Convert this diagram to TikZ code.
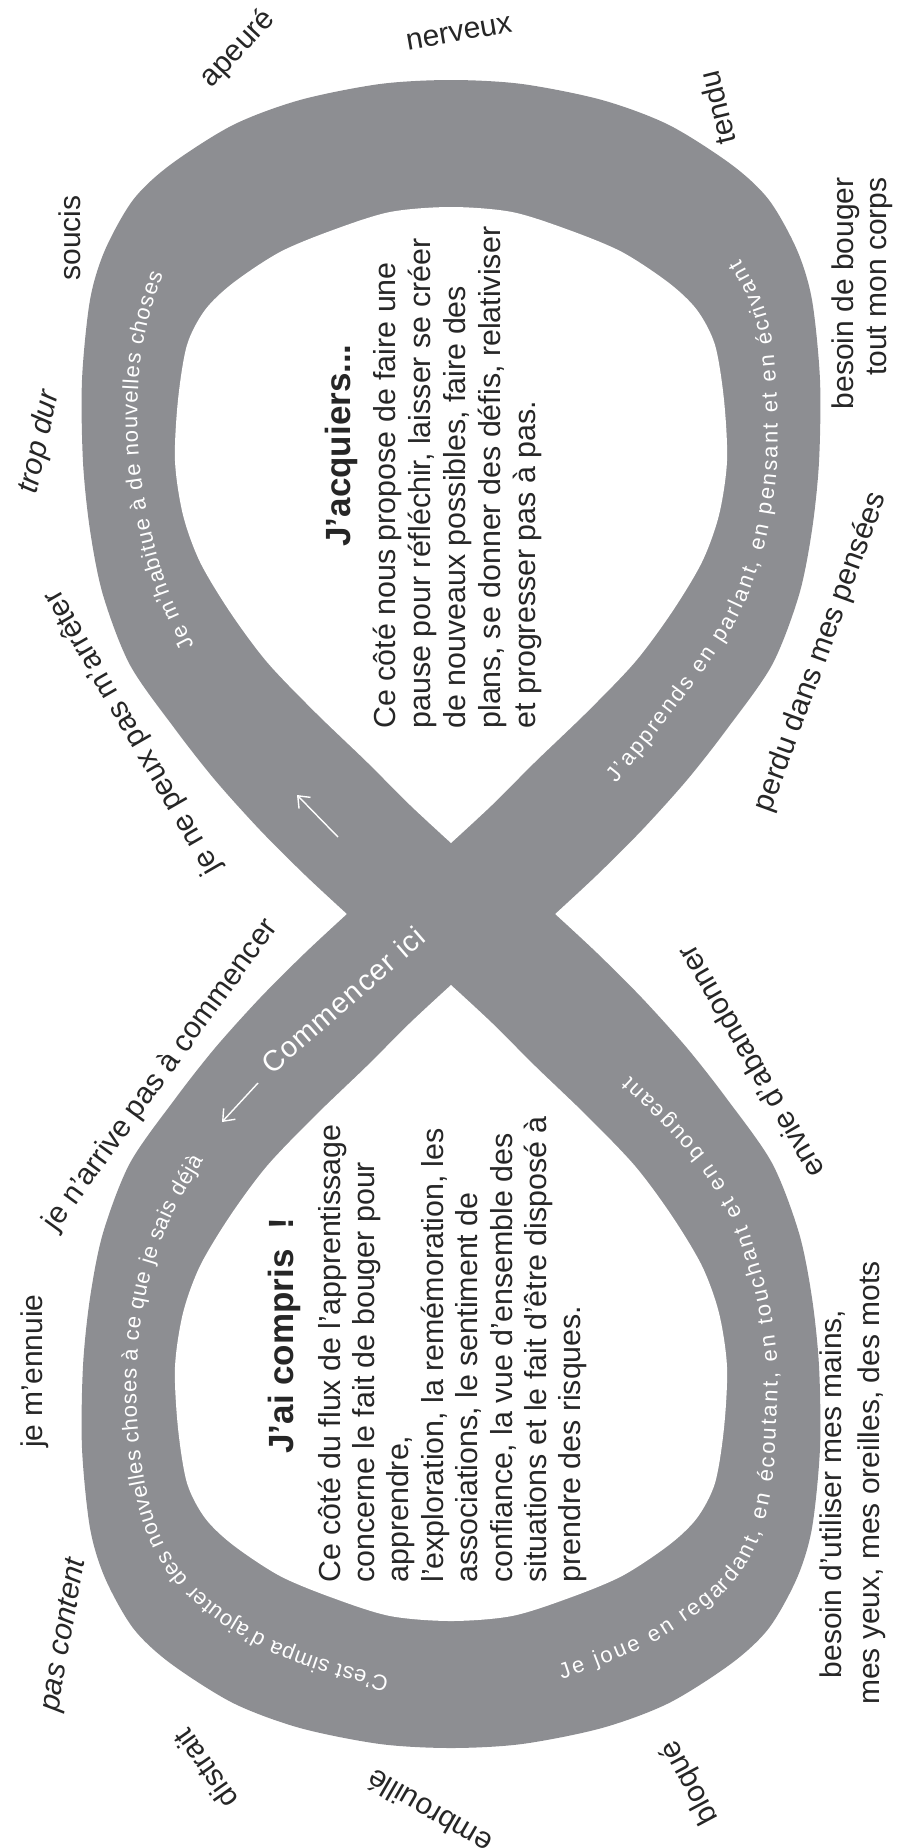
\documentclass[tikz,border=0pt]{standalone}
\usepackage{fontspec}
\setmainfont{Liberation Sans}
\usetikzlibrary{decorations.text, arrows.meta}
\definecolor{bandgrey}{RGB}{141,142,146}
\definecolor{ink}{RGB}{38,38,38}
\newcommand\fBody{\fontsize{15.2}{17}\selectfont}
\newcommand\fTitle{\fontsize{17.5}{20}\selectfont\bfseries}
\newcommand\fWord{\fontsize{15}{17}\selectfont}
\newcommand\fBand{\fontsize{11}{13}\selectfont}
\newcommand\fStart{\fontsize{14.5}{17}\selectfont\addfontfeatures{LetterSpace=4}}
\tikzset{
  word/.style={font=\fWord, text=ink, inner sep=0pt},
  bodyline/.style={font=\fBody, text=ink, inner sep=0pt, anchor=base west, rotate=90},
  titleline/.style={font=\fTitle, text=ink, inner sep=0pt, anchor=base west, rotate=90},
  bandtext/.style={rounded corners=11pt, decorate, decoration={text along path, text={|\fBand|#1}, text color=white, text align={fit to path}, raise=-2.8pt}},
  arr/.style={draw=white, line width=0.7pt, -{Straight Barb[length=5pt, width=8pt]}}
}
\begin{document}
\begin{tikzpicture}[x=0.5pt, y=-0.5pt]
\useasboundingbox (0,0) rectangle (922,1848);

% band (figure eight)
\fill[bandgrey] plot[smooth] coordinates {(347,914) (305,875) (260,830) (215,780) (175,729) (130,665) (103,595) (90,530) (83,462) (82,380) (90,300) (105,250) (133,200) (170,165) (233,125) (300,100) (380,84) (451,80) (522,84) (602,100) (669,125) (732,165) (769,200) (797,250) (812,300) (820,380) (819,462) (812,530) (799,595) (772,665) (727,729) (687,780) (642,830) (597,875) (555,914)}
 -- plot[smooth] coordinates {(555,914) (597,953) (642,998) (687,1048) (727,1099) (772,1163) (799,1233) (812,1298) (819,1366) (820,1448) (812,1528) (797,1578) (769,1628) (732,1663) (669,1703) (602,1728) (522,1744) (451,1748) (380,1744) (300,1728) (233,1703) (170,1663) (133,1628) (105,1578) (90,1528) (82,1448) (83,1366) (90,1298) (103,1233) (130,1163) (175,1099) (215,1048) (260,998) (305,953) (347,914)} -- cycle;
% holes
\fill[white] plot[smooth] coordinates {(451,843) (410,805) (367,762) (315,712) (267,662) (230,612) (200,562) (183,515) (175,461) (178,400) (187,345) (205,310) (233,283) (280,252) (333,230) (390,212) (451,207) (512,212) (569,230) (622,252) (669,283) (697,310) (715,345) (724,400) (727,461) (719,515) (702,562) (672,612) (635,662) (587,712) (535,762) (492,805) (451,843)} -- cycle;
\fill[white] plot[smooth] coordinates {(451,985) (410,1023) (367,1066) (315,1116) (267,1166) (230,1216) (200,1266) (183,1313) (175,1367) (178,1428) (187,1483) (205,1518) (233,1545) (280,1576) (333,1598) (390,1616) (451,1621) (512,1616) (569,1598) (622,1576) (669,1545) (697,1518) (715,1483) (724,1428) (727,1367) (719,1313) (702,1266) (672,1216) (635,1166) (587,1116) (535,1066) (492,1023) (451,985)} -- cycle;

% texts along the band
\path[bandtext={C'est simpa d'ajouter des nouvelles choses à ce que je sais déjà}] (388,1683) -- (330,1668) -- (270,1646) -- (215,1613) -- (175,1575) -- (150,1530) -- (136,1470) -- (130,1400) -- (133,1330) -- (145,1270) -- (165,1215) -- (199,1157);
\path[bandtext={Je joue en regardant, en écoutant, en touchant et en bougeant}] (560,1674) -- (592,1663) -- (652,1638) -- (702,1604) -- (734,1576) -- (756,1536) -- (768,1478) -- (773,1367) -- (764,1300) -- (740,1220) -- (704,1160) -- (660,1112) -- (626,1080);
\path[bandtext={Je m'habitue à de nouvelles choses}] (190,648) -- (165,600) -- (148,545) -- (135,480) -- (131,420) -- (134,360) -- (144,310) -- (158,272);
\path[bandtext={J'apprends en parlant, en pensant et en écrivant}] (612,780) -- (660,720) -- (704,662) -- (737,610) -- (760,545) -- (772,470) -- (772,400) -- (766,330) -- (752,290) -- (736,262);

% arrows and start label
\coordinate (a1t) at (338,837);
\coordinate (a1h) at (297,795);
\draw[arr] (a1t) -- (a1h);
\coordinate (a2t) at (258,1083);
\coordinate (a2h) at (222,1122);
\draw[arr] (a2t) -- (a2h);
\node[font=\fStart, text=white, rotate=41, inner sep=0pt] (start) at (343,1000) {Commencer ici};

% top lobe text
\node[titleline] (t1) at (350,547) {J'acquiers...};
\node[bodyline] (t1a) at (395,729) {Ce côté nous propose de faire une};
\node[bodyline] (t1b) at (430.2,729) {pause pour réfléchir, laisser se créer};
\node[bodyline] (t1c) at (465.4,729) {de nouveaux possibles, faire des};
\node[bodyline] (t1d) at (500.6,729) {plans, se donner des défis, relativiser};
\node[bodyline] (t1e) at (535.8,729) {et progresser pas à pas.};

% bottom lobe text
\node[titleline] (t2) at (293,1454) {J'ai compris\ \ !};
\node[bodyline] (t2a) at (340,1583) {Ce côté du flux de l'apprentissage};
\node[bodyline] (t2b) at (374.4,1583) {concerne le fait de bouger pour};
\node[bodyline] (t2c) at (408.8,1583) {apprendre,};
\node[bodyline] (t2d) at (443.2,1583) {l'exploration, la remémoration, les};
\node[bodyline] (t2e) at (477.6,1583) {associations, le sentiment de};
\node[bodyline] (t2f) at (512,1583) {confiance, la vue d'ensemble des};
\node[bodyline] (t2g) at (546.4,1583) {situations et le fait d'être disposé à};
\node[bodyline] (t2h) at (580.8,1583) {prendre des risques.};

% outer words
\node[word, rotate=47] (apeure) at (238,49) {apeuré};
\node[word, rotate=10] (nerveux) at (459,33) {nerveux};
\node[word, rotate=104] (tendu) at (717,108) {tendu};
\node[word, rotate=90] (soucis) at (70,238) {soucis};
\node[word, rotate=78, font=\fWord\itshape] (tropdur) at (40,442) {trop dur};
\node[word, rotate=120] (peux) at (133,732) {je ne peux pas m'arrêter};
\node[word, rotate=54] (arrive) at (161,1075) {je n'arrive pas à commencer};
\node[word, rotate=90] (ennuie) at (35,1371) {je m'ennuie};
\node[word, rotate=80, font=\fWord\itshape] (content) at (65,1635) {pas content};
\node[word, rotate=125] (distrait) at (205,1769) {distrait};
\node[word, rotate=150] (embrouille) at (429,1812) {embrouillé};
\node[word, rotate=118] (bloque) at (690,1782) {bloqué};
\node[word, rotate=90, anchor=base] (utiliserA) at (841,1494) {besoin d'utiliser mes mains,};
\node[word, rotate=90, anchor=base] (utiliserB) at (879,1483) {mes yeux, mes oreilles, des mots};
\node[word, rotate=120] (envie) at (750,1062) {envie d'abandonner};
\node[word, rotate=70] (perdu) at (821,652) {perdu dans mes pensées};
\node[word, rotate=90, anchor=base east] (bougerA) at (853,177) {besoin de bouger};
\node[word, rotate=90, anchor=base east] (bougerB) at (886,177) {tout mon corps};
\end{tikzpicture}
\end{document}
